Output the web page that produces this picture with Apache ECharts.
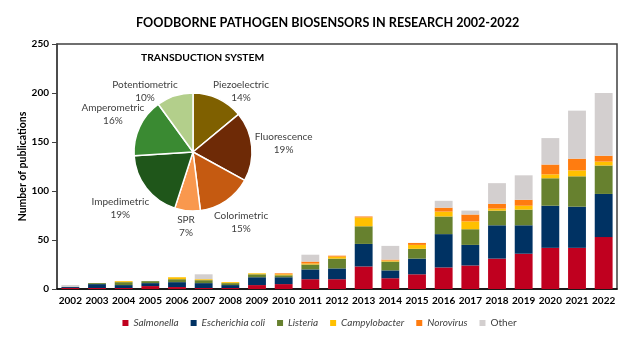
<!DOCTYPE html>
<html><head><meta charset="utf-8">
<script src="https://cdn.jsdelivr.net/npm/echarts@6/dist/echarts.min.js"></script>
<style>html,body{margin:0;padding:0;background:#fff}#c{width:639px;height:343px}</style>
</head><body><div id="c"></div>
<script>
const years = ['2002','2003','2004','2005','2006','2007','2008','2009','2010','2011','2012','2013','2014','2015','2016','2017','2018','2019','2020','2021','2022'];
const salmonella    = [1,1,1,3,2,1,1,4,5,10,10,23,11,15,22,24,31,36,42,42,53];
const ecoli         = [1,4,3,3,5,5,3,8,7,10,11,23,8,16,34,21,34,29,43,42,44];
const listeria      = [0,1,3,2,3,3,2,3,2,5,10,18,9,10,18,16,15,16,28,31,29];
const campylobacter = [0,0,1,0,2,1,1,1,1,1,2,9,1,4,5,8,2,4,4,6,4];
const norovirus     = [0,0,0,0,0,0,0,0,1,2,1,1,1,2,4,7,5,6,10,12,6];
const other         = [2,0,0,0,0,5,0,0,0,7,0,0,14,0,7,4,21,25,27,49,64];
const yTicks = [0,50,100,150,200,250];

const pieNames  = ['Piezoelectric','Fluorescence','Colorimetric','SPR','Impedimetric','Amperometric','Potentiometric'];
const pieValues = [14,19,15,7,19,16,10];
const pieColors = ['#7f6000','#6e2a06','#c55a11','#f9984e','#1f561a','#3a8a32','#b3cf8b'];

const font = 'Lato, "Open Sans", sans-serif';
const seriesDefs = [
  ['Salmonella', salmonella, '#c0001f', true],
  ['Escherichia coli', ecoli, '#003263', true],
  ['Listeria', listeria, '#67812f', true],
  ['Campylobacter', campylobacter, '#ffc000', true],
  ['Norovirus', norovirus, '#ff7c10', true],
  ['Other', other, '#d3cfcf', false]
];

const PIE_C = [193, 152], PIE_R = 59, GAP = 3, LH = 13, LABEL_FS = 10;
const PIE_TITLE_TOP = 53, LABEL_MIN_TOP = 78;
const pieTotal = pieValues.reduce((a,b)=>a+b,0);
const midAngles = [];
{ let acc = 0; pieValues.forEach(v => { midAngles.push((acc + v/2) / pieTotal * 2 * Math.PI); acc += v; }); }

const mctx = document.createElement('canvas').getContext('2d');
mctx.font = LABEL_FS + 'px ' + font;
function lineWidths(i) {
  return [pieNames[i], pieValues[i] + '%'].map(s => mctx.measureText(s).width);
}
function clears(cx, cy, widths) {
  const H = widths.length * LH;
  for (let k = 0; k < widths.length; k++) {
    const x0 = cx - widths[k] / 2, x1 = cx + widths[k] / 2;
    const y0 = cy - H / 2 + k * LH + 1, y1 = y0 + LH - 2;
    const px = Math.max(x0, Math.min(PIE_C[0], x1));
    const py = Math.max(y0, Math.min(PIE_C[1], y1));
    if (Math.hypot(px - PIE_C[0], py - PIE_C[1]) < PIE_R + GAP) return false;
  }
  return true;
}
function placeLabel(i) {
  const a = midAngles[i], ux = Math.sin(a), uy = -Math.cos(a);
  const widths = lineWidths(i), H = widths.length * LH;
  let cx = PIE_C[0], cy = PIE_C[1];
  for (let t = PIE_R; t < 250; t += 0.5) {
    cx = PIE_C[0] + ux * t; cy = PIE_C[1] + uy * t;
    if (clears(cx, cy, widths)) break;
  }
  if (cy - H / 2 < LABEL_MIN_TOP) {
    cy = LABEL_MIN_TOP + H / 2;
    const s = ux >= 0 ? 1 : -1;
    for (let dx = 0; dx < 250; dx += 0.5) {
      cx = PIE_C[0] + s * dx;
      if (clears(cx, cy, widths)) break;
    }
  }
  return {x: cx, y: cy};
}

const chart = echarts.init(document.getElementById('c'), null, {renderer:'canvas'});
const series = seriesDefs.map(d => ({
  name: d[0], type: 'bar', stack: 'total', data: d[1],
  barWidth: '67%', itemStyle: {color: d[2]}
}));
series.push({
  type: 'pie', center: PIE_C, radius: PIE_R, startAngle: 90, clockwise: true,
  silent: true,
  data: pieNames.map((n,i)=>({name:n, value:pieValues[i], itemStyle:{color:pieColors[i]}})),
  itemStyle: {borderColor:'#fff', borderWidth:1.5},
  label: {
    show: true, position: 'outside', formatter: '{b}\n{d}%',
    fontFamily: font, fontSize: LABEL_FS, color: '#404040', lineHeight: LH, align: 'center'
  },
  labelLine: {show: false},
  labelLayout: function (p) {
    const pos = placeLabel(p.dataIndex);
    return {x: pos.x, y: pos.y, align: 'center', verticalAlign: 'middle'};
  },
  emphasis: {disabled: true}
});

chart.setOption({
  animation: false,
  backgroundColor: '#fff',
  title: {text: 'FOODBORNE PATHOGEN BIOSENSORS IN RESEARCH 2002-2022', left: 131, top: 11,
     textStyle: {fontFamily: font, fontWeight: 'bold', fontSize: 12.6, color: '#000'}},
  graphic: [{type: 'text', left: 141, top: PIE_TITLE_TOP,
     style: {text: 'TRANSDUCTION SYSTEM', font: 'bold 10.3px ' + font, fill: '#000'}}],
  legend: {
    bottom: 10, left: 'center', itemWidth: 6, itemHeight: 6, itemGap: 12,
    icon: 'rect',
    textStyle: {fontFamily: font, fontSize: 10, color: '#404040'},
    data: seriesDefs.map(d => ({name: d[0], textStyle: {fontStyle: d[3] ? 'italic' : 'normal'}}))
  },
  grid: {left: 57, right: 22, top: 44, bottom: 54, show: true, borderColor: '#404040', borderWidth: 1.5},
  xAxis: {
    type: 'category', data: years,
    axisLine: {lineStyle: {color: '#000', width: 1.5}},
    axisTick: {show: false},
    axisLabel: {fontFamily: font, fontWeight: 'bold', fontSize: 10, color: '#000', margin: 7, interval: 0}
  },
  yAxis: {
    type: 'value', min: yTicks[0], max: yTicks[yTicks.length-1], interval: 50,
    name: 'Number of publications', nameLocation: 'middle', nameGap: 29, nameMoveOverlap: false,
    nameTextStyle: {fontFamily: font, fontWeight: 'bold', fontSize: 10.5, color: '#000'},
    axisLine: {show: true, lineStyle: {color: '#404040', width: 1.5}},
    axisTick: {show: true, length: 5, lineStyle: {color: '#404040'}},
    splitLine: {show: false},
    axisLabel: {fontFamily: font, fontWeight: 'bold', fontSize: 10, color: '#000', margin: 8}
  },
  series: series
});
</script></body></html>
